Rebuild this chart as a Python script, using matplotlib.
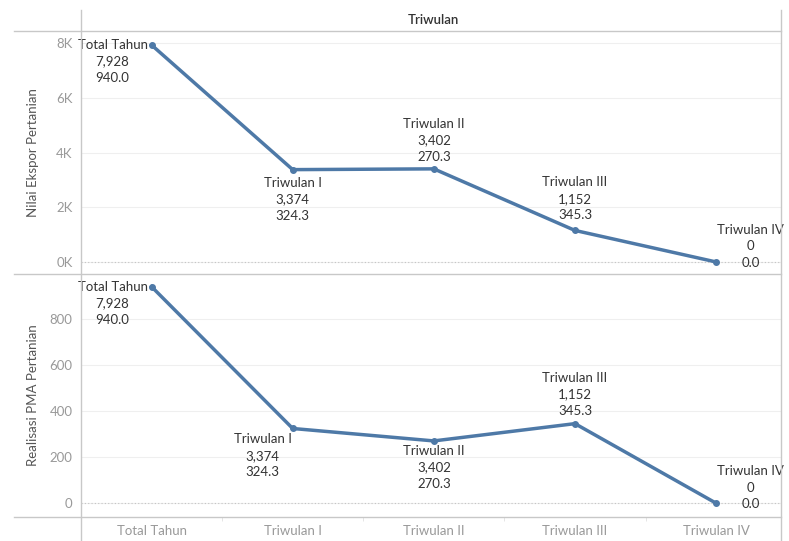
import matplotlib
matplotlib.use("Agg")
import matplotlib.pyplot as plt
from matplotlib.lines import Line2D
from matplotlib.ticker import FuncFormatter

# Data
kategori = ["Total Tahun", "Triwulan I", "Triwulan II", "Triwulan III", "Triwulan IV"]
ekspor = [7928, 3374, 3402, 1152, 0]
pma = [940.0, 324.3, 270.3, 345.3, 0.0]

plt.rcParams['font.family'] = ['Lato', 'DejaVu Sans']

W, H = 789, 541
fig = plt.figure(figsize=(W / 100, H / 100), dpi=100)
blue = "#4e79a7"
x = list(range(len(kategori)))


def frac_box(left, top, right, bottom):
    return [left / W, 1 - bottom / H, (right - left) / W, (bottom - top) / H]


ax1 = fig.add_axes(frac_box(81, 31, 781, 274))
ax2 = fig.add_axes(frac_box(81, 274, 781, 517))

# label text for every point (same for both panels)
labels = [f"{k}\n{e:,.0f}\n{p:.1f}" for k, e, p in zip(kategori, ekspor, pma)]

# offsets in pixels, ha, va for each label
pos_top = [(-4, 6, "right", "top"), (0, -7, "center", "top"), (0, 6, "center", "bottom"),
           (0, 9, "center", "bottom"), (68, -7, "right", "bottom")]
pos_bot = [(-4, 6, "right", "top"), (-30, -5, "center", "top"), (0, -4, "center", "top"),
           (0, 7, "center", "bottom"), (68, -7, "right", "bottom")]

for ax, vals, pos in [(ax1, ekspor, pos_top), (ax2, pma, pos_bot)]:
    ax.plot(x, vals, color=blue, lw=2.5, marker="o", ms=4, zorder=3)
    for xi, v, lab, (dx, dy, ha, va) in zip(x, vals, labels, pos):
        ax.annotate(lab, (xi, v), xytext=(dx, dy), textcoords="offset pixels",
                    ha=ha, va=va, multialignment="center", fontsize=9.5,
                    color="#333333", linespacing=1.45, zorder=4)
    ax.set_xlim(-0.5, 4.46)
    for s in ax.spines.values():
        s.set_visible(False)
    ax.tick_params(axis="y", length=0, colors="#999999", labelsize=9.5, pad=6)
    ax.grid(axis="y", color="#efefef", lw=0.8)
    ax.axhline(0, color="#c4c4c4", lw=0.8, ls=(0, (1, 2)), zorder=1)
    ax.set_axisbelow(True)

ax1.set_ylim(-440, 8440)
ax1.set_yticks([0, 2000, 4000, 6000, 8000])
ax1.yaxis.set_major_formatter(FuncFormatter(lambda v, p: f"{v / 1000:.0f}K"))
ax1.set_xticks([])
ax1.set_ylabel("Nilai Ekspor Pertanian", color="#555555", fontsize=9.5, labelpad=10)

ax2.set_ylim(-60, 995)
ax2.set_yticks([0, 200, 400, 600, 800])
ax2.set_xticks(x)
ax2.set_xticklabels(kategori)
ax2.set_xticks([0.5, 1.5, 2.5, 3.5], minor=True)
ax2.tick_params(axis="x", which="major", length=0, colors="#999999", labelsize=9.5, pad=6)
ax2.tick_params(axis="x", which="minor", length=3, color="#e0e0e0")
ax2.set_ylabel("Realisasi PMA Pertanian", color="#555555", fontsize=9.5, labelpad=10)
ax1.yaxis.set_label_coords(-0.06, 0.5)
ax2.yaxis.set_label_coords(-0.06, 0.5)

# header and frame lines
line_col = "#c8c8c8"
for y in [31, 274, 517]:
    fig.add_artist(Line2D([14 / W, 781 / W], [1 - y / H, 1 - y / H], color=line_col, lw=1))
for xv in [81, 781]:
    fig.add_artist(Line2D([xv / W, xv / W], [1 - 10 / H, 0], color=line_col, lw=1))
fig.text(433 / W, 1 - 20 / H, "Triwulan", ha="center", va="center", fontsize=9.5,
         color="#333333", fontweight="semibold")

fig.savefig("out.png", dpi=100)
